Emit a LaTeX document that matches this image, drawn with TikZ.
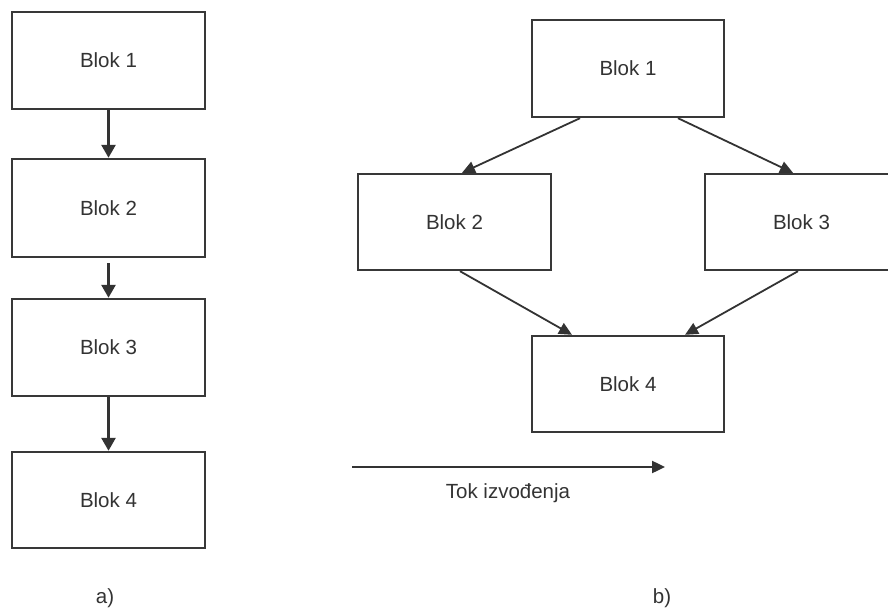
\documentclass[tikz,border=0pt]{standalone}
\usepackage{fontspec}
\setmainfont{Liberation Sans}
\usetikzlibrary{arrows.meta}
\begin{document}
\begin{tikzpicture}[x=1pt,y=-1pt,
  blok/.style={draw=black!78, line width=2.4pt, fill=white, inner sep=0pt,
    minimum width=193pt, minimum height=97pt, text=black!80,
    font=\fontsize{20.5}{24}\selectfont},
  arr/.style={draw=black!80, line width=1.8pt,
    -{Triangle[length=13pt,width=12pt]}},
  varr/.style={arr, line width=2.6pt, -{Triangle[length=13pt,width=14pt]}},
  lbl/.style={text=black!80, font=\fontsize{20.5}{24}\selectfont}]
\useasboundingbox (0,0) rectangle (888,609);

% a) sequential flow
\node[blok] (L1) at (108.5,60.5) {Blok 1};
\node[blok, minimum height=98pt] (L2) at (108.5,208) {Blok 2};
\node[blok] (L3) at (108.5,347.5) {Blok 3};
\node[blok, minimum height=96pt] (L4) at (108.5,500) {Blok 4};
\draw[varr] (L1.south) -- (L2.north);
\draw[varr] ([yshift=-5pt]L2.south) -- (L3.north);
\draw[varr] (L3.south) -- (L4.north);
\node[lbl] (la) at (105,598) {a)};

% b) parallel flow
\node[blok, minimum width=192pt] (R1) at (628,68.5) {Blok 1};
\node[blok, minimum height=96pt] (R2) at (454.5,222) {Blok 2};
\node[blok, minimum height=96pt] (R3) at (801.5,222) {Blok 3};
\node[blok, minimum width=192pt, minimum height=96pt] (R4) at (628,384) {Blok 4};
\draw[arr] ([xshift=-48pt]R1.south) -- ([xshift=7.5pt]R2.north);
\draw[arr] ([xshift=50pt]R1.south) -- ([xshift=-8.5pt]R3.north);
\draw[arr] ([xshift=5.5pt]R2.south) -- ([xshift=-56pt]R4.north);
\draw[arr] ([xshift=-3.5pt]R3.south) -- ([xshift=57pt]R4.north);

% direction of execution
\coordinate (t0) at (352,467);
\coordinate (t1) at (665,467);
\draw[arr, line width=2.4pt] (t0) -- (t1);
\node[lbl] (tok) at (508,493) {Tok izvođenja};
\node[lbl] (lb) at (662,598) {b)};
\end{tikzpicture}
\end{document}
